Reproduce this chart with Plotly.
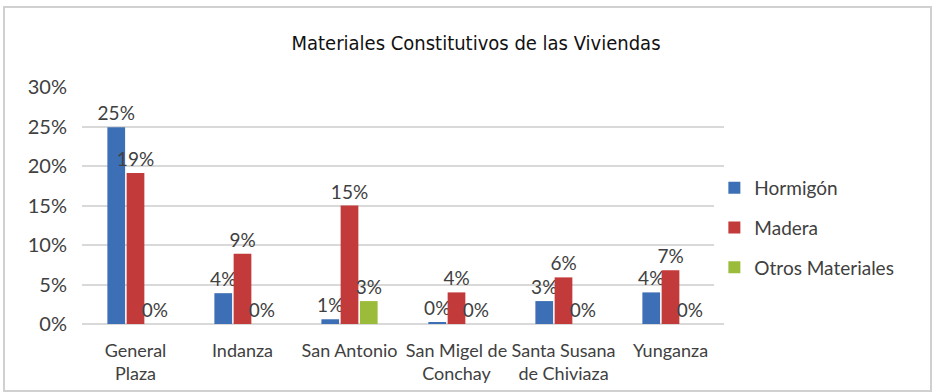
import plotly.graph_objects as go

# Parishes (two-line labels) and share of dwellings by construction material
categories = ["General<br>Plaza", "Indanza", "San Antonio", "San Migel de<br>Conchay",
              "Santa Susana<br>de Chiviaza", "Yunganza"]
hormigon = [0.249, 0.039, 0.006, 0.002, 0.029, 0.040]
madera = [0.191, 0.089, 0.150, 0.040, 0.059, 0.068]
otros = [0.0, 0.0, 0.029, 0.0, 0.0, 0.0]

series = [
    ("Hormigón", hormigon, "#3c6fb5"),
    ("Madera", madera, "#c23a3a"),
    ("Otros Materiales", otros, "#9bbb3b"),
]

W, H = 933, 392
L, R, T, B = 82, 209, 87, 68
FONT = "Lato"
TXT = "#404040"

fig = go.Figure()
for name, vals, col in series:
    fig.add_trace(go.Bar(
        name=name, x=categories, y=vals, legendgroup=name,
        marker=dict(color=col, line=dict(width=0)),
        texttemplate="%{y:.0%}", textposition="outside",
        constraintext="none",
        textfont=dict(family=FONT, size=19, color=TXT),
        cliponaxis=False,
    ))

pw, ph = W - L - R, H - T - B
fig.add_shape(type="rect", xref="paper", yref="paper",
              x0=(4 - L) / pw, x1=(W - 2 - L) / pw,
              y0=-(H - 1 - (H - B)) / ph, y1=(H - B - 7) / ph,
              line=dict(color="#d0d0d0", width=2), layer="below")

fig.update_layout(
    width=W, height=H,
    margin=dict(l=L, r=R, t=T, b=B, autoexpand=False),
    paper_bgcolor="white", plot_bgcolor="white",
    barmode="group", bargap=0.46, bargroupgap=0.08,
    title=dict(text="Materiales Constitutivos de las Viviendas",
               x=476 / W, xanchor="center", y=1 - 43 / H, yanchor="middle",
               font=dict(family="DejaVu Sans Condensed", size=20, color="#111111")),
    legend=dict(x=0.985, xanchor="left", y=(324 - 228) / 237, yanchor="middle",
                font=dict(family=FONT, size=19, color=TXT),
                itemwidth=30, tracegroupgap=12, traceorder="grouped"),
    yaxis=dict(range=[0, 0.30], dtick=0.05, tickformat=".0%", automargin=False,
               showgrid=True, gridcolor="#d9d9d9", gridwidth=2,
               zeroline=True, zerolinecolor="#d9d9d9", zerolinewidth=2,
               showline=False, ticks="", ticklen=0, ticklabelstandoff=14,
               tickfont=dict(family=FONT, size=20, color=TXT)),
    xaxis=dict(showline=False, ticks="", tickangle=0, automargin=False,
               ticklabelstandoff=14,
               tickfont=dict(family=FONT, size=18, color=TXT)),
)

fig.write_html("out.html")
